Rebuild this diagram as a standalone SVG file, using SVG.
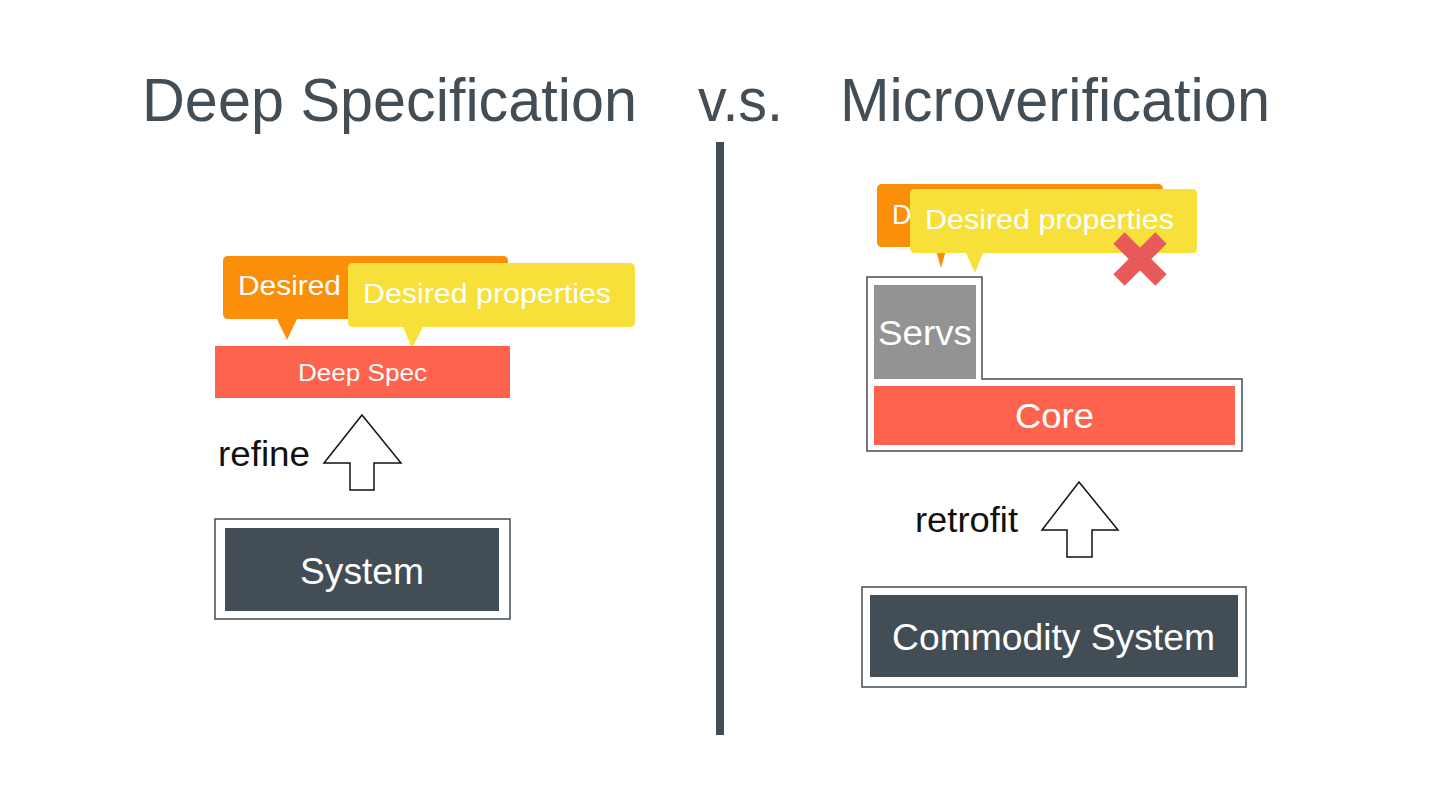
<svg xmlns="http://www.w3.org/2000/svg" width="1440" height="810" viewBox="0 0 1440 810">
<style>
text{font-family:"Liberation Sans",Arial,sans-serif}
.title{font-size:62px;fill:#434d55}
.w{fill:#ffffff}
.blk{fill:#111111}
.orange{fill:#fb8f0a}
.yellow{fill:#f8e03a}
.red{fill:#fe634e}
.dark{fill:#434d55}
.frame{fill:none;stroke:#434d55;stroke-width:1.5}
.arrow{fill:#ffffff;stroke:#111111;stroke-width:1.5;stroke-linejoin:miter}
</style>
<rect width="1440" height="810" fill="#ffffff"/>
<g id="titles">
<text class="title" x="142" y="121" textLength="495" lengthAdjust="spacingAndGlyphs">Deep Specification</text>
<text class="title" x="698" y="121" textLength="85" lengthAdjust="spacingAndGlyphs">v.s.</text>
<text class="title" x="840" y="121" textLength="430" lengthAdjust="spacingAndGlyphs">Microverification</text>
</g>
<rect id="divider" x="716" y="142" width="8" height="593" fill="#434d55"/>

<g id="left-desired-orange">
<path class="orange" d="M228,256 H503 Q508,256 508,261 V314 Q508,319 503,319 H297 L287,340 L277,319 H228 Q223,319 223,314 V261 Q223,256 228,256 Z"/>
<text class="w" x="238" y="295" font-size="27" textLength="103" lengthAdjust="spacingAndGlyphs">Desired</text>
</g>
<g id="left-desired-yellow">
<path class="yellow" d="M353,263 H630 Q635,263 635,268 V322 Q635,327 630,327 H423 L412,348 L403,327 H353 Q348,327 348,322 V268 Q348,263 353,263 Z"/>
<text class="w" x="363" y="303" font-size="27" textLength="248" lengthAdjust="spacingAndGlyphs">Desired properties</text>
</g>
<g id="deep-spec">
<rect class="red" x="215" y="346" width="295" height="52"/>
<text class="w" x="298" y="381" font-size="24" textLength="129" lengthAdjust="spacingAndGlyphs">Deep Spec</text>
</g>
<g id="system">
<rect class="frame" x="215" y="519" width="295" height="100"/>
<rect class="dark" x="225" y="528" width="274" height="83"/>
<text class="w" x="300" y="584" font-size="36" textLength="124" lengthAdjust="spacingAndGlyphs">System</text>
</g>

<g id="right-desired-orange">
<path class="orange" d="M882,184 H1158 Q1163,184 1163,189 V242 Q1163,247 1158,247 H947 L941,268 L935,247 H882 Q877,247 877,242 V189 Q877,184 882,184 Z"/>
<text class="w" x="892" y="224" font-size="27">D</text>
</g>
<g id="right-desired-yellow">
<path class="yellow" d="M915,189 H1192 Q1197,189 1197,194 V248 Q1197,253 1192,253 H983 L975,273 L966,253 H915 Q910,253 910,248 V194 Q910,189 915,189 Z"/>
<text class="w" x="925" y="229" font-size="27" textLength="249" lengthAdjust="spacingAndGlyphs">Desired properties</text>
</g>
<g id="cross">
<path d="M1119,238 L1161,280 M1161,238 L1119,280" stroke="#e85a5a" stroke-width="16" fill="none"/>
</g>
<g id="micro-kernel">
<path class="frame" d="M867,277 H982 V379 H1242 V451 H867 Z"/>
</g>
<g id="servs">
<rect x="874" y="285" width="102" height="94" fill="#939393"/>
<text class="w" x="878" y="345" font-size="35" textLength="94" lengthAdjust="spacingAndGlyphs">Servs</text>
</g>
<g id="core">
<rect class="red" x="874" y="386" width="361" height="59"/>
<text class="w" x="1015" y="428" font-size="35" textLength="79" lengthAdjust="spacingAndGlyphs">Core</text>
</g>
<g id="commodity-system">
<rect class="frame" x="862" y="587" width="384" height="100"/>
<rect class="dark" x="870" y="595" width="368" height="82"/>
<text class="w" x="892" y="650" font-size="36" textLength="323" lengthAdjust="spacingAndGlyphs">Commodity System</text>
</g>

<g id="connectors">
<path class="arrow" d="M362,415 L401,463 H374 V490 H350 V463 H324 Z"/>
<text class="blk" x="218" y="466" font-size="35" textLength="92" lengthAdjust="spacingAndGlyphs">refine</text>
<path class="arrow" d="M1079,482 L1118,530 H1092 V557 H1067 V530 H1042 Z"/>
<text class="blk" x="915" y="532" font-size="35" textLength="103" lengthAdjust="spacingAndGlyphs">retrofit</text>
</g>
</svg>
